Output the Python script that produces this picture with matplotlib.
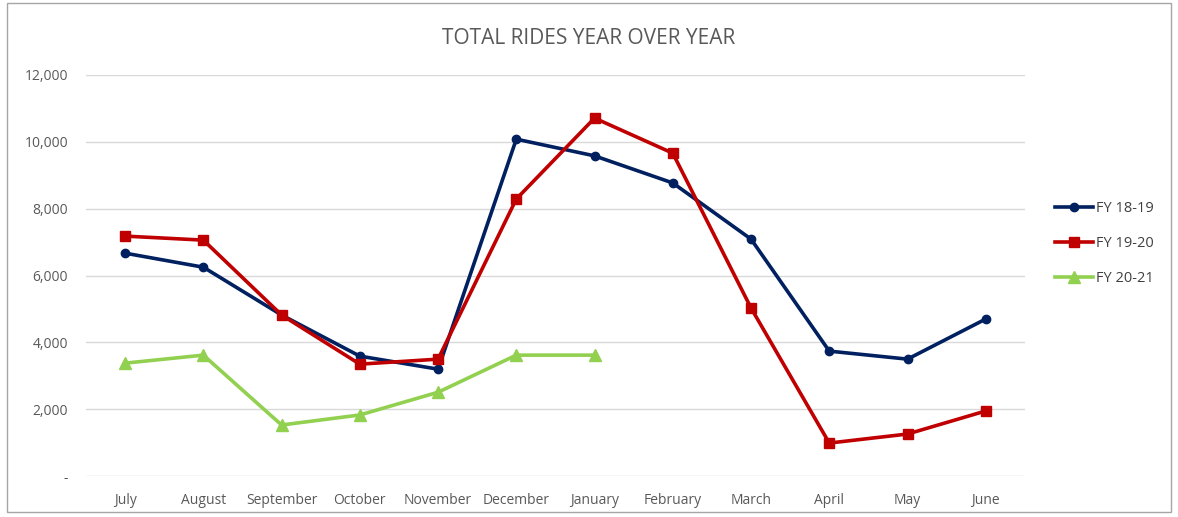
import matplotlib
matplotlib.use("Agg")
import matplotlib.pyplot as plt
from matplotlib.patches import Rectangle
from matplotlib.ticker import FuncFormatter

months = ['July', 'August', 'September', 'October', 'November', 'December',
          'January', 'February', 'March', 'April', 'May', 'June']
fy_18_19 = [6670, 6250, 4820, 3590, 3200, 10080, 9580, 8770, 7090, 3740, 3500, 4700]
fy_19_20 = [7180, 7060, 4820, 3350, 3500, 8290, 10710, 9660, 5030, 990, 1260, 1950]
fy_20_21 = [3380, 3620, 1530, 1830, 2510, 3620, 3620]

plt.rcParams['font.family'] = ['Open Sans', 'DejaVu Sans']

fig = plt.figure(figsize=(11.78, 5.17), dpi=100)
ax = fig.add_axes([0.073, 0.079, 0.797, 0.776])

x = list(range(len(months)))
ax.plot(x, fy_18_19, color='#002060', lw=2.6, marker='o', ms=6, label='FY 18-19')
ax.plot(x, fy_19_20, color='#C00000', lw=2.6, marker='s', ms=7, label='FY 19-20')
ax.plot(x[:len(fy_20_21)], fy_20_21, color='#92D050', lw=2.6, marker='^', ms=8, label='FY 20-21')

ax.set_xlim(-0.5, 11.5)
ax.set_ylim(0, 12000)
ax.set_yticks(range(0, 12001, 2000))
ax.yaxis.set_major_formatter(FuncFormatter(lambda v, p: '-' if v == 0 else f'{int(v):,}'))
ax.set_xticks(x)
ax.set_xticklabels(months)
ax.grid(axis='y', color='#d9d9d9', lw=1)
ax.set_axisbelow(True)
for s in ax.spines.values():
    s.set_visible(False)
ax.tick_params(length=0, labelsize=10, colors='#595959', pad=12)
ax.tick_params(axis='y', pad=13)

fig.text(0.5, 0.925, 'TOTAL RIDES YEAR OVER YEAR', ha='center', va='center',
         fontsize=15, color='#595959')

ax.legend(loc='center left', bbox_to_anchor=(1.018, 0.58), frameon=False,
          fontsize=10.5, labelspacing=1.35, handlelength=2.6, handletextpad=0.2,
          labelcolor='#404040')

fig.patches.append(Rectangle((0.006, 0.01), 0.988, 0.985, transform=fig.transFigure,
                             fill=False, edgecolor='#a6a6a6', lw=1))

fig.savefig('out.png', dpi=100)
